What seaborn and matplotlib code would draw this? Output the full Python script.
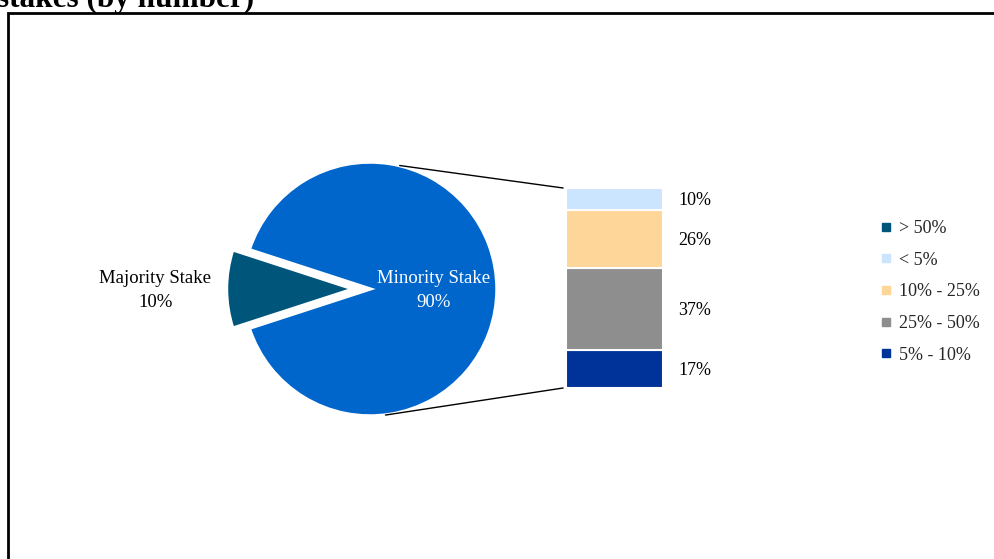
import matplotlib
matplotlib.use("Agg")
import matplotlib.pyplot as plt
import seaborn as sns
from matplotlib.patches import ConnectionPatch, Rectangle
from matplotlib.lines import Line2D
import numpy as np

# ---------------- data ----------------
pie_labels = ["Majority Stake", "Minority Stake"]
pie_values = [10, 90]
pie_colors = ["#00557A", "#0066CC"]

bar_categories = ["5% - 10%", "25% - 50%", "10% - 25%", "< 5%"]   # bottom -> top
bar_values = [17, 37, 26, 10]
bar_colors = ["#003399", "#8E8E8E", "#FFD699", "#CCE5FF"]

legend_labels = ["> 50%", "< 5%", "10% - 25%", "25% - 50%", "5% - 10%"]
legend_colors = ["#00557A", "#CCE5FF", "#FFD699", "#8E8E8E", "#003399"]

title_text = "stakes (by number)"

# ---------------- style ----------------
sns.set_theme(style="white")
plt.rcParams["font.family"] = ["Liberation Serif", "DejaVu Serif"]

W, H = 994, 559
fig = plt.figure(figsize=(W / 100, H / 100), dpi=100)


def fx(x):
    return x / W


def fy(y):
    return 1 - y / H


# border box
fig.patches.append(Rectangle((fx(8), fy(600)), fx(1100), fy(13) - fy(600),
                             transform=fig.transFigure, fill=False,
                             edgecolor="black", linewidth=2, clip_on=False))
# title (clipped at top as in reference)
fig.text(fx(-3), fy(7), title_text, fontsize=22.5, fontweight="bold",
         ha="left", va="baseline", color="black")

# ---------------- pie ----------------
cx, cy, R = 370, 289, 127
half = 160
ax_pie = fig.add_axes([fx(cx - half), fy(cy + half), (2 * half) / W, (2 * half) / H])
ax_pie.pie(pie_values, colors=pie_colors, startangle=180 - 18,
           explode=[0.13, 0], counterclock=True,
           wedgeprops=dict(edgecolor="white", linewidth=2.5))
lim = half / R
ax_pie.set_xlim(-lim, lim)
ax_pie.set_ylim(-lim, lim)
ax_pie.set_aspect("equal")
ax_pie.axis("off")

ax_pie.text(0.5, -0.01, f"{pie_labels[1]}\n{pie_values[1]}%", color="white",
            ha="center", va="center", fontsize=13.5, linespacing=1.5)
ax_pie.text(-1.69, -0.01, f"{pie_labels[0]}\n{pie_values[0]}%", color="black",
            ha="center", va="center", fontsize=13.5, linespacing=1.5,
            clip_on=False)

# ---------------- stacked bar ----------------
bx0, bx1, by0, by1 = 566, 663, 188, 388
ax_bar = fig.add_axes([fx(bx0), fy(by1), (bx1 - bx0) / W, (by1 - by0) / H])
bottom = 0
for cat, v, c in zip(bar_categories, bar_values, bar_colors):
    ax_bar.bar(0, v, bottom=bottom, width=1.0, color=c, edgecolor="white",
               linewidth=1.5)
    ax_bar.text(1.33, bottom + v / 2 - 0.8, f"{v}%", transform=ax_bar.get_yaxis_transform(),
                ha="center", va="center", fontsize=13, color="black")
    bottom += v
ax_bar.set_xlim(-0.5, 0.5)
ax_bar.set_ylim(0, sum(bar_values))
ax_bar.axis("off")

# connector lines
a_top = np.deg2rad(76.5)
a_bot = np.deg2rad(-83)
for ang, yb in [(a_top, sum(bar_values)), (a_bot, 0)]:
    con = ConnectionPatch(xyA=(np.cos(ang), np.sin(ang)), coordsA=ax_pie.transData,
                          xyB=(-0.53, yb), coordsB=ax_bar.transData,
                          color="black", linewidth=1)
    fig.add_artist(con)

# ---------------- legend ----------------
handles = [Line2D([0], [0], marker="s", linestyle="none", markersize=6,
                  markerfacecolor=c, markeredgecolor=c) for c in legend_colors]
fig.legend(handles, legend_labels, loc="upper left",
           bbox_to_anchor=(fx(879), fy(220)), frameon=False, fontsize=13,
           handlelength=0.8, handletextpad=0.3, labelspacing=0.81,
           borderaxespad=0, borderpad=0)

fig.savefig("out.png", dpi=100)
